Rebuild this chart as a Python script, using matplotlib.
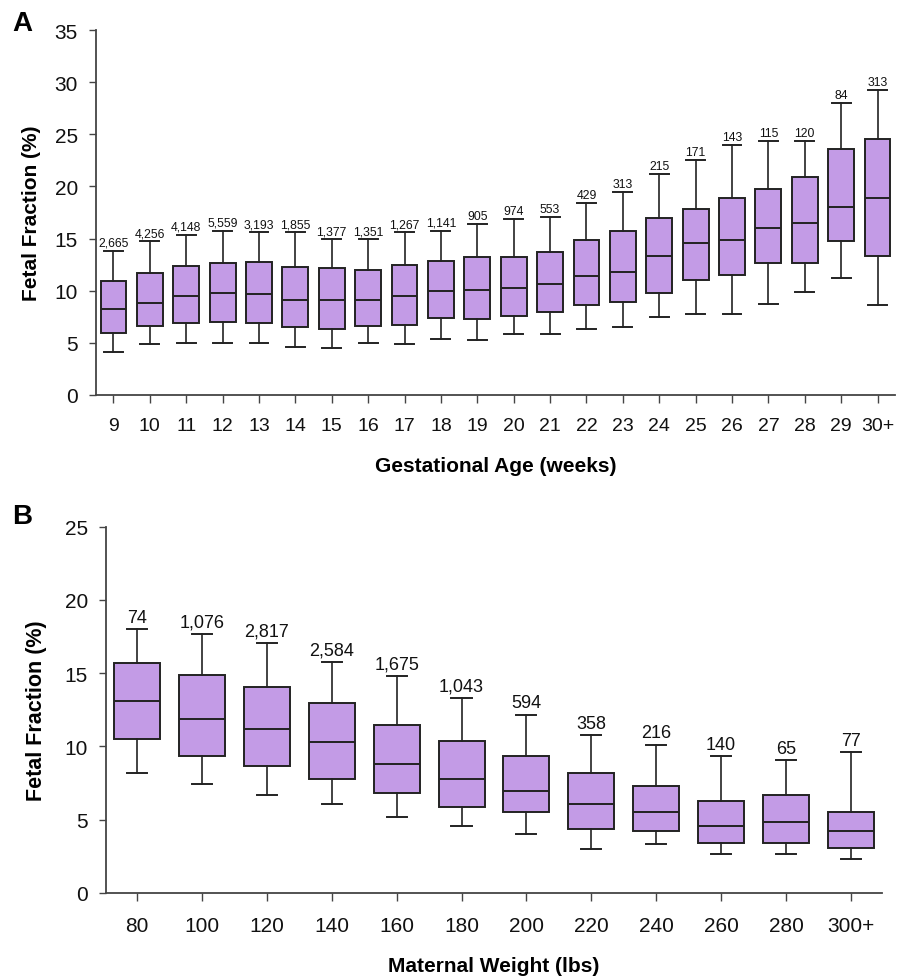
import matplotlib
matplotlib.use("Agg")
import matplotlib.pyplot as plt

# panel A: fetal fraction by gestational age
ga_labels = [str(w) for w in range(9, 30)] + ["30+"]
ga_n = ["2,665", "4,256", "4,148", "5,559", "3,193", "1,855", "1,377", "1,351", "1,267", "1,141",
        "905", "974", "553", "429", "313", "215", "171", "143", "115", "120", "84", "313"]
ga_whislo = [4.15, 4.86, 4.95, 4.95, 4.95, 4.63, 4.54, 4.95, 4.86, 5.34,
             5.30, 5.85, 5.85, 6.33, 6.52, 7.51, 7.76, 7.76, 8.72, 9.84, 11.25, 8.66]
ga_q1 = [5.97, 6.65, 6.87, 6.96, 6.93, 6.55, 6.33, 6.65, 6.74, 7.35,
         7.25, 7.54, 7.92, 8.63, 8.95, 9.74, 11.02, 11.53, 12.62, 12.62, 14.76, 13.29]
ga_med = [8.24, 8.82, 9.46, 9.74, 9.65, 9.14, 9.14, 9.14, 9.46, 9.94,
          10.03, 10.29, 10.64, 11.44, 11.82, 13.32, 14.60, 14.86, 16.01, 16.45, 18.02, 18.88]
ga_q3 = [10.9, 11.73, 12.33, 12.62, 12.72, 12.24, 12.14, 12.01, 12.43, 12.81,
         13.26, 13.19, 13.67, 14.82, 15.69, 16.93, 17.80, 18.88, 19.78, 20.93, 23.55, 24.50]
ga_whishi = [13.83, 14.73, 15.34, 15.75, 15.59, 15.59, 14.92, 14.92, 15.59, 15.72,
             16.39, 16.90, 17.09, 18.40, 19.42, 21.18, 22.56, 23.99, 24.31, 24.31, 27.96, 29.23]

# panel B: fetal fraction by maternal weight
mw_labels = ["80", "100", "120", "140", "160", "180", "200", "220", "240", "260", "280", "300+"]
mw_n = ["74", "1,076", "2,817", "2,584", "1,675", "1,043", "594", "358", "216", "140", "65", "77"]
mw_whislo = [8.17, 7.46, 6.69, 6.10, 5.16, 4.60, 4.05, 3.00, 3.37, 2.64, 2.64, 2.30]
mw_q1 = [10.51, 9.37, 8.69, 7.78, 6.80, 5.87, 5.50, 4.39, 4.23, 3.39, 3.39, 3.05]
mw_med = [13.08, 11.85, 11.19, 10.28, 8.78, 7.78, 6.96, 6.10, 5.50, 4.60, 4.82, 4.21]
mw_q3 = [15.67, 14.88, 14.08, 12.99, 11.49, 10.35, 9.37, 8.19, 7.30, 6.28, 6.69, 5.50]
mw_whishi = [18.02, 17.65, 17.08, 15.76, 14.81, 13.28, 12.17, 10.76, 10.12, 9.33, 9.05, 9.60]

FACE = "#c39be6"
EDGE = "#222222"
SPINE = "#444444"
NARROW = ["Liberation Sans Narrow", "Liberation Sans", "DejaVu Sans"]
REG = ["Liberation Sans", "DejaVu Sans"]

plt.rcParams["font.family"] = REG


def draw_panel(ax, labels, counts, lo, q1, med, q3, hi, ymax, step, cap_w,
               n_size, n_pad, xlabel, tick_size, tick_pad, xlab_pad, ylab_size, ylab_pad):
    stats = []
    for i in range(len(labels)):
        stats.append(dict(whislo=lo[i], q1=q1[i], med=med[i], q3=q3[i], whishi=hi[i], fliers=[]))
    pos = list(range(1, len(labels) + 1))
    ax.bxp(stats, positions=pos, widths=0.71, patch_artist=True, showfliers=False,
           boxprops=dict(facecolor=FACE, edgecolor=EDGE, linewidth=1.4),
           medianprops=dict(color=EDGE, linewidth=1.4),
           whiskerprops=dict(color=EDGE, linewidth=1.2),
           capprops=dict(color=EDGE, linewidth=1.4),
           capwidths=cap_w)
    # sample sizes above the upper whisker
    for p, h, n in zip(pos, hi, counts):
        ax.annotate(n, (p, h), xytext=(0, n_pad), textcoords="offset points",
                    ha="center", va="bottom", fontsize=n_size, color="#111111")
    ax.set_xlim(0.52, len(labels) + 0.48)
    ax.set_ylim(0, ymax)
    ax.set_yticks(range(0, ymax + 1, step))
    ax.set_xticks(pos)
    ax.set_xticklabels(labels, fontsize=tick_size)
    for t in ax.get_yticklabels():
        t.set_fontsize(15)
    for s in ["top", "right"]:
        ax.spines[s].set_visible(False)
    for s in ["left", "bottom"]:
        ax.spines[s].set_color(SPINE)
        ax.spines[s].set_linewidth(1.3)
    ax.tick_params(axis="both", colors=SPINE, width=1.0, length=5, labelcolor="#111111")
    ax.tick_params(axis="x", pad=tick_pad, length=6)
    ax.tick_params(axis="y", pad=8)
    ax.set_ylabel("Fetal Fraction (%)", fontsize=ylab_size, fontweight="bold", labelpad=ylab_pad)
    ax.set_xlabel(xlabel, family=NARROW, fontsize=15, fontweight="bold", labelpad=xlab_pad)


fig = plt.figure(figsize=(9.09, 9.78), dpi=100)

ax_a = fig.add_axes([0.1056, 0.5951, 0.879, 0.3732])
draw_panel(ax_a, ga_labels, ga_n, ga_whislo, ga_q1, ga_med, ga_q3, ga_whishi,
           35, 5, 0.52, 8.8, 1.5, "Gestational Age (weeks)", 14, 10, 16, 15, 10)

ax_b = fig.add_axes([0.1166, 0.0859, 0.8537, 0.3745])
draw_panel(ax_b, mw_labels, mw_n, mw_whislo, mw_q1, mw_med, mw_q3, mw_whishi,
           25, 5, 0.31, 13, 2.5, "Maternal Weight (lbs)", 15, 10.5, 15, 15.5, 13)

fig.text(0.013, 0.975, "A", fontsize=20, fontweight="bold", va="center", ha="left")
fig.text(0.013, 0.471, "B", fontsize=20, fontweight="bold", va="center", ha="left")

fig.savefig("out.png", dpi=100)
